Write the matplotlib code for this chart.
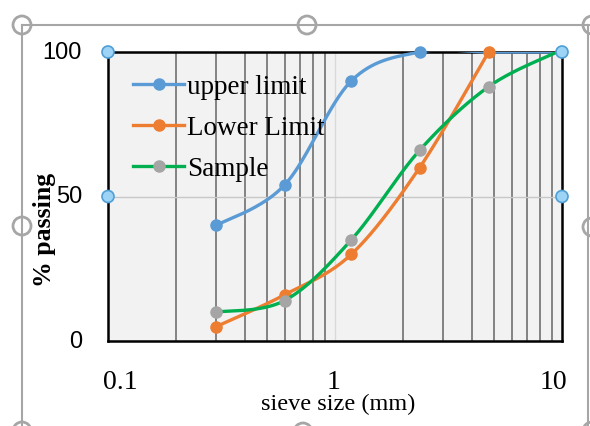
import numpy as np
import matplotlib
matplotlib.use("Agg")
import matplotlib.pyplot as plt
from matplotlib.lines import Line2D
from matplotlib.patches import Circle

# ---- data ----
sieve_sizes = [0.3, 0.6, 1.18, 2.36, 4.75, 9.5]
upper_limit = [40, 54, 90, 100, 100, 100]
lower_sizes = [0.3, 0.6, 1.18, 2.36, 4.75]
lower_limit = [5, 16, 30, 60, 100]
sample = [10, 14, 35, 66, 88, 100]
series_labels = ["upper limit", "Lower Limit", "Sample"]
x_ticks = [0.1, 1, 10]
x_tick_labels = ["0.1", "1", "10"]
y_ticks = [0, 50, 100]
y_tick_labels = ["0", "50", "100"]


def smooth(xs, ys, n=40):
    """Excel-like smoothed line (Catmull-Rom through the points, log-x space)."""
    lx = np.log10(np.asarray(xs, float))
    y = np.asarray(ys, float)
    px = np.concatenate([[lx[0]], lx, [lx[-1]]])
    py = np.concatenate([[y[0]], y, [y[-1]]])
    outx, outy = [], []
    for i in range(1, len(px) - 2):
        p0, p1, p2, p3 = (np.array([px[j], py[j]]) for j in (i - 1, i, i + 1, i + 2))
        c1 = p1 + (p2 - p0) / 6.0
        c2 = p2 - (p3 - p1) / 6.0
        t = np.linspace(0, 1, n)[:, None]
        b = ((1 - t) ** 3) * p1 + 3 * ((1 - t) ** 2) * t * c1 + 3 * (1 - t) * t ** 2 * c2 + t ** 3 * p2
        outx.extend(b[:, 0]); outy.extend(b[:, 1])
    return 10 ** np.array(outx), np.array(outy)


W, H = 590, 427
fig = plt.figure(figsize=(W / 100, H / 100), dpi=100)
fig.patch.set_facecolor("white")

L, R, T, B = 108, 562, 53, 342
ax = fig.add_axes([L / W, 1 - B / H, (R - L) / W, (B - T) / H])
ax.set_facecolor("#f2f2f2")
ax.set_xscale("log")
ax.set_xlim(0.1, 10)
ax.set_ylim(0, 100)

# gridlines
ax.xaxis.grid(True, which="minor", color="#7a7a7a", lw=1.3)
ax.xaxis.grid(True, which="major", color="#d9d9d9", lw=1.0)
ax.yaxis.grid(True, which="major", color="#c8c8c8", lw=1.0)
ax.set_axisbelow(True)

serif = "Liberation Serif"
blue, orange, green, grey = "#5B9BD5", "#ED7D31", "#00B050", "#A5A5A5"
MS = 8

sx, sy = smooth(sieve_sizes, upper_limit)
ax.plot(sx, sy, color=blue, lw=2.4, zorder=3)
ax.plot(sieve_sizes[:4], upper_limit[:4], "o", color=blue, ms=MS, zorder=4, clip_on=False)

sx, sy = smooth(lower_sizes, lower_limit)
ax.plot(sx, sy, color=orange, lw=2.4, zorder=3)
ax.plot(lower_sizes, lower_limit, "o", color=orange, ms=MS, zorder=4, clip_on=False)

sx, sy = smooth(sieve_sizes, sample)
ax.plot(sx, sy, color=green, lw=2.4, zorder=5)
ax.plot(sieve_sizes[:-1], sample[:-1], "o", color=grey, ms=MS, zorder=6)

ax.set_xticks(x_ticks)
ax.set_xticklabels([])
ax.set_yticks(y_ticks)
ax.set_yticklabels([])
ax.tick_params(axis="both", which="both", length=0)

for s in ax.spines.values():
    s.set_color("black")
    s.set_linewidth(1.8)

# tick labels & axis titles placed as in the Excel screenshot
def fx(px):
    return px / W


def fy(py):
    return 1 - py / H


x_label_pos = [120, 334, 553]
for lab, px in zip(x_tick_labels, x_label_pos):
    fig.text(fx(px), fy(383), lab, family=serif, fontsize=20, ha="center", va="center")
for lab, yv in zip(y_tick_labels, y_ticks):
    py = B - (B - T) * yv / 100
    fig.text(fx(82), fy(py), lab, family="Liberation Sans", fontsize=17, ha="right", va="center")

fig.text(fx(338), fy(404), "sieve size (mm)", family=serif, fontsize=17.5, ha="center", va="center")
fig.text(fx(44), fy(230), "% passing", family=serif, fontsize=18.5, fontweight="bold",
         rotation=90, ha="center", va="center")

handles = [
    Line2D([], [], color=blue, lw=2.4, marker="o", ms=MS),
    Line2D([], [], color=orange, lw=2.4, marker="o", ms=MS, mfc=orange, mec=orange),
    Line2D([], [], color=green, lw=2.4, marker="o", ms=MS, mfc=grey, mec=grey),
]
leg = ax.legend(handles, series_labels, loc="upper left",
                bbox_to_anchor=(133 / W, 1 - 75 / H), bbox_transform=fig.transFigure,
                frameon=False, prop={"family": serif, "size": 19.5},
                handlelength=1.9, handletextpad=0.1, labelspacing=0.6, borderaxespad=0,
                borderpad=0)
leg.set_zorder(7)

# selection frame and handles of the screenshot
ov = fig.add_axes([0, 0, 1, 1], zorder=10)
ov.set_xlim(0, W); ov.set_ylim(H, 0); ov.axis("off"); ov.patch.set_visible(False)
fc = "#a6a6a6"
ov.plot([22, 590], [26, 26], color=fc, lw=1.5)
ov.plot([22, 22], [26, 440], color=fc, lw=1.5)
ov.plot([588, 588], [26, 440], color=fc, lw=1.5)
for cx, cy in [(22, 26), (307, 26), (592, 26), (22, 227), (592, 228), (22, 432), (303, 433), (592, 432)]:
    ov.add_patch(Circle((cx, cy), 9, facecolor="white", edgecolor=fc, lw=2, clip_on=False))
for cx, cy in [(L, T), (R, T), (L, (T + B) / 2), (R, (T + B) / 2)]:
    ov.add_patch(Circle((cx, cy), 6, facecolor="#9dd3f5", edgecolor="#4f9fd6", lw=1.2, clip_on=False))

fig.savefig("out.png", dpi=100)
